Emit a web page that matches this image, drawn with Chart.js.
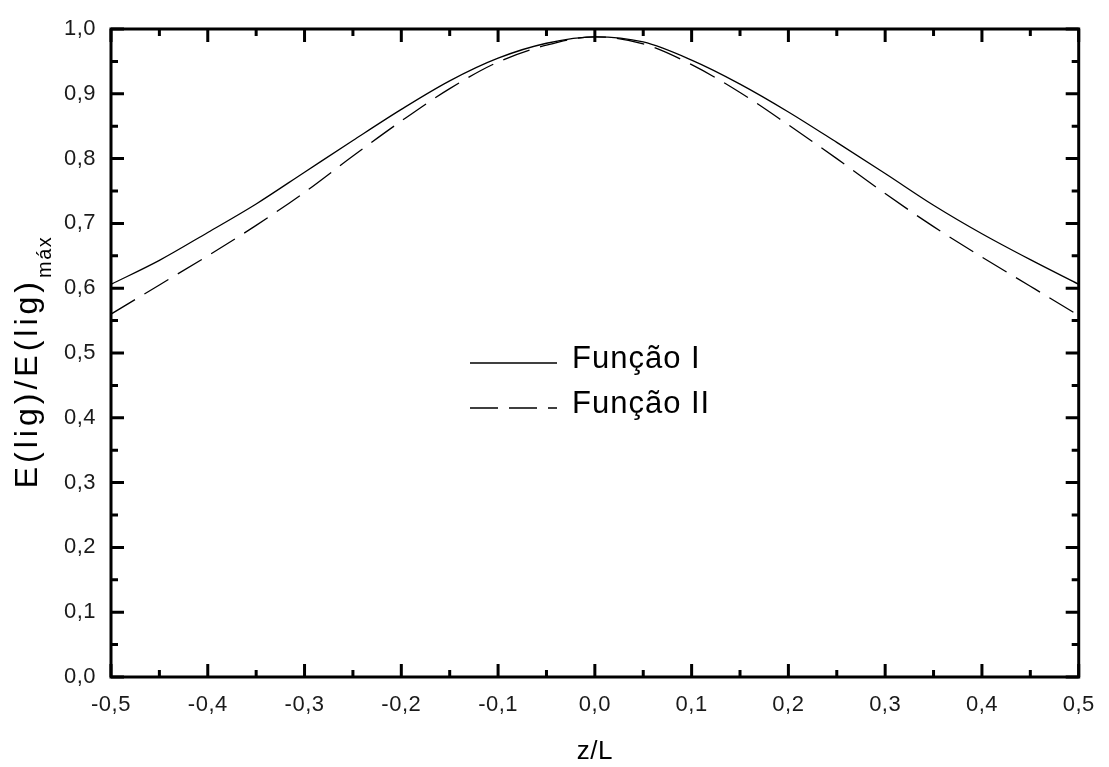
<!DOCTYPE html>
<html>
<head>
<meta charset="utf-8">
<title>E(lig)/E(lig)máx</title>
<script src="https://cdn.jsdelivr.net/npm/chart.js@4.4.1/dist/chart.umd.min.js"></script>
<style>
  html, body { margin: 0; padding: 0; background: #fff; }
  #caixa { width: 1109px; height: 767px; }
</style>
</head>
<body>
<div id="caixa"><canvas id="grafico" width="1109" height="767"></canvas></div>
<script>
// posição relativa z/L
const zL = [-0.5, -0.45, -0.4, -0.35, -0.3, -0.25, -0.2, -0.15, -0.1, -0.05, 0,
            0.05, 0.1, 0.15, 0.2, 0.25, 0.3, 0.35, 0.4, 0.45, 0.5];

// E(lig)/E(lig)max para cada função
const funcaoI = [0.606, 0.643, 0.686, 0.730, 0.779, 0.828, 0.876, 0.920, 0.955, 0.978, 0.988,
                 0.980, 0.952, 0.915, 0.872, 0.825, 0.777, 0.728, 0.684, 0.644, 0.606];
const funcaoII = [0.560, 0.605, 0.650, 0.697, 0.748, 0.804, 0.858, 0.908, 0.949, 0.975, 0.988,
                  0.977, 0.945, 0.902, 0.852, 0.800, 0.746, 0.695, 0.648, 0.603, 0.558];

const nomes = ['Função I', 'Função II'];
const tracos = [[], [28, 11]];

const fonte = '"Liberation Sans", Arial, sans-serif';

function pontos(valores) {
    return zL.map((z, i) => ({ x: z, y: valores[i] }));
}

function virgula(v) {
    if (Math.abs(v) < 1e-9) v = 0;
    return v.toFixed(1).replace('.', ',');
}

// moldura com ticks para dentro nos quatro lados
const moldura = {
    id: 'moldura',
    beforeDraw(chart) {
        chart.ctx.letterSpacing = '0.5px';
    },
    beforeDatasetsDraw(chart) {
        chart.ctx.letterSpacing = '0px';
    },
    afterDraw(chart) {
        const ctx = chart.ctx, a = chart.chartArea;
        const sx = chart.scales.x, sy = chart.scales.y;
        ctx.save();
        ctx.strokeStyle = '#000';
        ctx.lineWidth = 3;
        ctx.strokeRect(a.left, a.top, a.right - a.left, a.bottom - a.top);

        ctx.beginPath();
        for (let i = -10; i <= 10; i++) {
            const px = sx.getPixelForValue(i * 0.05);
            const len = i % 2 === 0 ? 13 : 7;
            ctx.moveTo(px, a.bottom); ctx.lineTo(px, a.bottom - len);
            ctx.moveTo(px, a.top); ctx.lineTo(px, a.top + len);
        }
        for (let i = 0; i <= 20; i++) {
            const py = sy.getPixelForValue(i * 0.05);
            const len = i % 2 === 0 ? 13 : 7;
            ctx.moveTo(a.left, py); ctx.lineTo(a.left + len, py);
            ctx.moveTo(a.right, py); ctx.lineTo(a.right - len, py);
        }
        ctx.stroke();

        // legenda
        ctx.fillStyle = '#000';
        ctx.font = '31px ' + fonte;
        ctx.letterSpacing = '1px';
        ctx.textBaseline = 'middle';
        const linhas = [363, 408];
        chart.data.datasets.forEach((ds, i) => {
            const y = linhas[i];
            ctx.lineWidth = 1.3;
            ctx.setLineDash(ds.borderDash || []);
            ctx.beginPath();
            ctx.moveTo(470, y);
            ctx.lineTo(557, y);
            ctx.stroke();
            ctx.setLineDash([]);
            ctx.fillText(ds.label, 572, y - 4);
        });

        // título do eixo y com subscrito
        ctx.translate(37, 362);
        ctx.rotate(-Math.PI / 2);
        ctx.textBaseline = 'alphabetic';
        const principal = 'E(lig)/E(lig)';
        ctx.font = '32px ' + fonte;
        ctx.letterSpacing = '4px';
        const w1 = ctx.measureText(principal).width;
        ctx.font = '20px ' + fonte;
        ctx.letterSpacing = '1.5px';
        const w2 = ctx.measureText('máx').width;
        const x0 = -(w1 + w2) / 2;
        ctx.font = '32px ' + fonte;
        ctx.letterSpacing = '4px';
        ctx.fillText(principal, x0, 0);
        ctx.font = '20px ' + fonte;
        ctx.letterSpacing = '1.5px';
        ctx.fillText('máx', x0 + w1, 14);
        ctx.restore();
    }
};

new Chart(document.getElementById('grafico'), {
    type: 'line',
    data: {
        datasets: [funcaoI, funcaoII].map((v, i) => ({
            label: nomes[i],
            data: pontos(v),
            borderColor: '#000',
            borderWidth: 1.3,
            borderDash: tracos[i],
            pointRadius: 0,
            fill: false,
            cubicInterpolationMode: 'monotone'
        }))
    },
    options: {
        responsive: false,
        animation: false,
        devicePixelRatio: 1,
        layout: { padding: { top: 29, right: 21, left: 0, bottom: 0 } },
        plugins: {
            legend: { display: false },
            tooltip: { enabled: false }
        },
        scales: {
            x: {
                type: 'linear',
                min: -0.5,
                max: 0.5,
                afterFit(s) { s.height = 90; },
                grid: { display: false, drawTicks: false },
                border: { display: false },
                ticks: {
                    stepSize: 0.1,
                    padding: 15,
                    color: '#1a1a1a',
                    font: { family: fonte, size: 22 },
                    maxRotation: 0,
                    callback: virgula
                },
                title: {
                    display: true,
                    text: 'z/L',
                    color: '#000',
                    font: { family: fonte, size: 26 },
                    padding: { top: 14, bottom: 0 }
                }
            },
            y: {
                min: 0,
                max: 1,
                afterFit(s) { s.width = 111; },
                grid: { display: false, drawTicks: false },
                border: { display: false },
                ticks: {
                    stepSize: 0.1,
                    padding: 15,
                    color: '#1a1a1a',
                    font: { family: fonte, size: 22 },
                    callback: virgula
                }
            }
        }
    },
    plugins: [moldura]
});
</script>
</body>
</html>
